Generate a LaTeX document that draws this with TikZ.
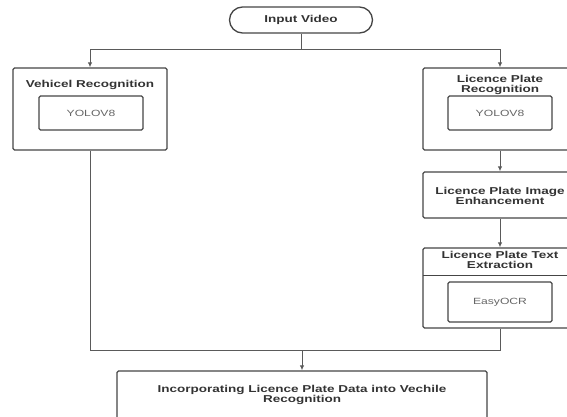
\documentclass[tikz,border=0pt]{standalone}
\usepackage{fontspec}
\newfontfamily\boxfont[FakeStretch=1.35]{Liberation Sans}
\usepackage{tikz}
\usetikzlibrary{arrows.meta,shapes}
\definecolor{boxgray}{HTML}{454545}
\definecolor{linegray}{HTML}{5A5A5A}
\tikzstyle{box}=[draw=boxgray,line width=1.3pt,rounded corners=1.5pt,inner sep=0pt]
\tikzstyle{inner box}=[box,line width=1.1pt,minimum width=104pt,font=\boxfont\fontsize{9}{10}\selectfont,text=black!60]
\tikzstyle{title}=[inner sep=0pt,align=center,text=black!80,font=\boxfont\fontsize{10}{10.5}\selectfont\bfseries]
\tikzstyle{edge} = [draw,linegray,line width=1pt,-]
\tikzstyle{arrow edge} = [draw,linegray,line width=1pt,-{Latex[length=5pt,width=4.5pt]}]

\begin{document}
\begin{tikzpicture}[x=1pt,y=-1pt]
        \useasboundingbox (0,0) rectangle (567,417);
        \clip (0,0) rectangle (567,417);
        \node[box,rounded corners=13pt,minimum width=143pt,minimum height=26pt] (input) at (301,20) {};
        \node[title] (inputtxt) at (301,20) {Input Video};
        % left branch
        \node[box,minimum width=154pt,minimum height=82pt] (vehbox) at (90,109) {};
        \node[title] (vehtitle) at (90,85) {Vehicel Recognition};
        \node[inner box,minimum height=34pt] (vehyolo) at (91,113) {YOLOV8};
        % right branch
        \node[box,minimum width=154pt,minimum height=82pt] (lprbox) at (500,109) {};
        \node[title] (lprtitle) at (500,85) {Licence Plate\\Recognition};
        \node[inner box,minimum height=34pt] (lpryolo) at (500,113) {YOLOV8};
        \node[box,minimum width=154pt,minimum height=46pt] (enhbox) at (500,195) {};
        \node[title] (enhtitle) at (500,196) {Licence Plate Image\\Enhancement};
        \node[box,minimum width=154pt,minimum height=80pt] (extbox) at (500,288) {};
        \node[title] (exttitle) at (500,260) {Licence Plate Text\\Extraction};
        \coordinate (sepl) at (423,275);
        \coordinate (sepr) at (577,275);
        \draw[boxgray,line width=1pt] (sepl) to (sepr);
        \node[inner box,minimum height=40pt] (ocr) at (500,302) {EasyOCR};
        % bottom
        \node[box,minimum width=370pt,minimum height=60pt] (final) at (302,401) {};
        \node[title] (finaltitle) at (302,395) {Incorporating Licence Plate Data into Vechile\\Recognition};
        \coordinate (split) at (301,50);
        \coordinate (merge) at (302,350);
        \draw[edge] (input) to (split);
        \draw[arrow edge] (split) -| (vehbox);
        \draw[arrow edge] (split) -| (lprbox);
        \draw[arrow edge] (lprbox) to (enhbox);
        \draw[arrow edge] (enhbox) to (extbox);
        \draw[edge] (vehbox) |- (merge);
        \draw[edge] (extbox) |- (merge);
        \draw[arrow edge] (merge) to (final);
      \end{tikzpicture}
\end{document}
